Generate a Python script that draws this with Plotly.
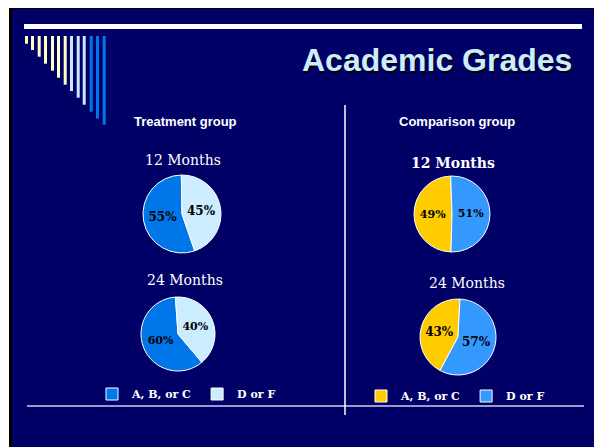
import plotly.graph_objects as go

# data
group_names = ["Treatment group", "Comparison group"]
period_names = ["12 Months", "24 Months"]
grade_labels = ["A, B, or C", "D or F"]
treatment_12 = [55, 45]
treatment_24 = [60, 40]
comparison_12 = [49, 51]
comparison_24 = [43, 57]

# the page body has an 8px margin, so the figure is drawn 8px in from the corner
OFF = 8
W, H = 602 - OFF, 447 - OFF
NAVY = "#000066"
TREAT_COLORS = ["#0077E8", "#CCECFF"]
COMP_COLORS = ["#FFCC00", "#3399FF"]
SERIF = "DejaVu Serif, Century Schoolbook, serif"
SANS = "Liberation Sans, Arial, sans-serif"


def px(x):
    return (x - OFF) / W


def py(y):
    return 1 - (y - OFF) / H


def pie_domain(cx, cy, d):
    return dict(x=[px(cx - d / 2), px(cx + d / 2)],
                y=[py(cy + d / 2), py(cy - d / 2)])


fig = go.Figure()

pies = [
    # values, colors, center, diameter, boundary tilt, legend, group, showlegend, text size
    (treatment_12, TREAT_COLORS, (182, 214), 78, -1, "legend", "treat", True, 12),
    (treatment_24, TREAT_COLORS, (178, 334), 74, -4, "legend", "treat", False, 11),
    (comparison_12, COMP_COLORS, (452, 214), 76, -2, "legend2", "comp", True, 11),
    (comparison_24, COMP_COLORS, (458, 337), 76, 3, "legend2", "comp", False, 12),
]
for vals, cols, (cx, cy), d, tilt, leg, grp, show, ts in pies:
    # "D or F" runs clockwise from 12 o'clock, "A, B, or C" fills the left side
    rot = tilt + 360 * vals[1] / sum(vals)
    fig.add_trace(go.Pie(
        labels=grade_labels, values=vals,
        sort=False, direction="clockwise", rotation=rot,
        marker=dict(colors=cols, line=dict(color="white", width=1)),
        texttemplate="%{percent:.0%}", textposition="inside",
        insidetextorientation="horizontal",
        textfont=dict(family=SERIF, size=ts, color="black", weight="bold"),
        domain=pie_domain(cx, cy, d),
        legend=leg, legendgroup=grp, showlegend=show,
        hoverinfo="label+percent",
    ))

shapes = [
    # slide frame
    dict(type="rect", x0=px(9), x1=px(602), y0=py(447), y1=py(6),
         fillcolor="black", line_width=0, layer="below"),
    dict(type="rect", x0=px(12), x1=px(598), y0=py(447), y1=py(9),
         fillcolor=NAVY, line_width=0, layer="below"),
    # top rule
    dict(type="rect", x0=px(24), x1=px(582), y0=py(29), y1=py(24),
         fillcolor="white", line_width=0),
    # bottom rule
    dict(type="line", x0=px(27), x1=px(584), y0=py(406), y1=py(406),
         line=dict(color="#9999CC", width=2)),
    # divider
    dict(type="line", x0=px(345), x1=px(345), y0=py(105), y1=py(415),
         line=dict(color="white", width=1.5)),
]

# decorative bars top-left
bar_left = [25, 31, 37.7, 44, 51, 57, 63.7, 70, 76.7, 82.7, 89.7, 96, 102.7]
bar_bottom = [43.7, 50, 56.7, 63.7, 70.7, 77.7, 84.7, 91, 97.7, 104.7, 111.7, 118.7, 124.7]
bar_color = ["#FFFFC0"] * 7 + ["#CCE8FF"] * 3 + ["#0077E8"] * 3
for x0, yb, c in zip(bar_left, bar_bottom, bar_color):
    shapes.append(dict(type="rect", x0=px(x0), x1=px(x0 + 3), y0=py(yb), y1=py(36),
                       fillcolor=c, line_width=0))


def label(text, x, y, family, size, color, weight="normal"):
    return dict(text=text, x=px(x), y=py(y), xanchor="center", yanchor="middle",
                showarrow=False,
                font=dict(family=family, size=size, color=color, weight=weight))


annotations = [
    label("Academic Grades", 438.5, 62, SANS, 32, "black", "bold"),  # shadow
    label("Academic Grades", 436.5, 60, SANS, 32, "#CCECFF", "bold"),
    label(group_names[0], 185.5, 122, SANS, 13, "white", "bold"),
    label(group_names[1], 457, 122, SANS, 13, "white", "bold"),
    label(period_names[0], 183, 160, SERIF, 14, "white"),
    label(period_names[1], 184.5, 280, SERIF, 14, "white"),
    label(period_names[0], 453, 163, SERIF, 14, "white", "bold"),
    label(period_names[1], 467, 283, SERIF, 14, "white"),
]

legend_style = dict(orientation="h", xanchor="left", yanchor="middle",
                    traceorder="normal",
                    bgcolor="rgba(0,0,0,0)", itemwidth=30,
                    font=dict(family=SERIF, size=11, color="white", weight="bold"))

fig.update_layout(
    width=W, height=H,
    margin=dict(l=0, r=0, t=0, b=0),
    paper_bgcolor="white",
    plot_bgcolor=NAVY,
    shapes=shapes,
    annotations=annotations,
    legend=dict(x=px(92), y=py(394), **legend_style),
    legend2=dict(x=px(361), y=py(396), **legend_style),
)

fig.write_html("out.html")
